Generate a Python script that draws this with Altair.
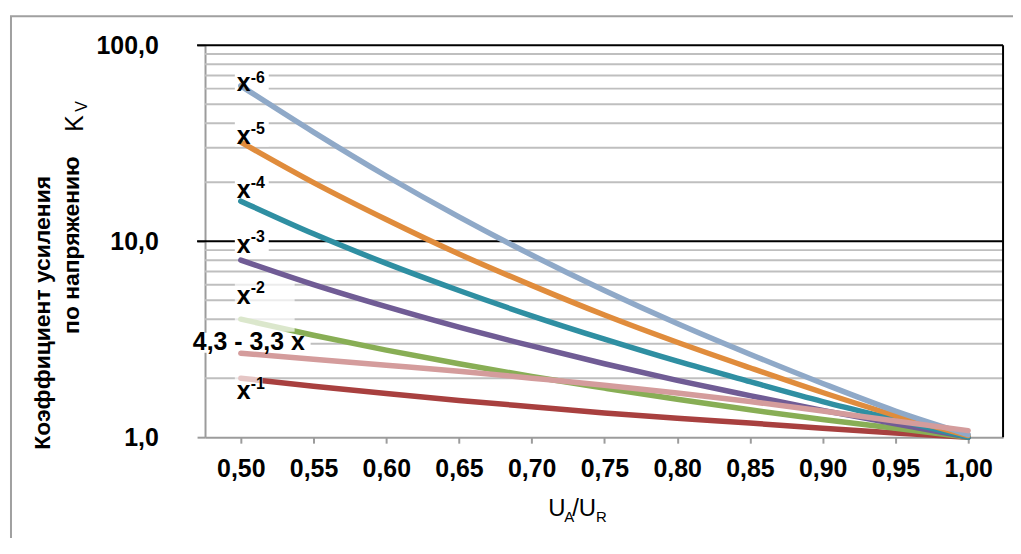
import altair as alt
import pandas as pd

# ---- data ----
x_vals = [0.50, 0.55, 0.60, 0.65, 0.70, 0.75, 0.80, 0.85, 0.90, 0.95, 1.00]

s_inv1 = [2.00, 1.82, 1.67, 1.54, 1.43, 1.33, 1.25, 1.18, 1.11, 1.05, 1.00]
s_inv2 = [4.00, 3.31, 2.78, 2.37, 2.04, 1.78, 1.56, 1.38, 1.23, 1.11, 1.00]
s_inv3 = [8.0, 6.0, 4.63, 3.64, 2.92, 2.37, 1.95, 1.63, 1.37, 1.17, 1.00]
s_inv4 = [16.0, 10.9, 7.7, 5.6, 4.16, 3.16, 2.44, 1.92, 1.52, 1.23, 1.00]
s_inv5 = [32.0, 19.9, 12.9, 8.6, 5.95, 4.2, 3.05, 2.26, 1.69, 1.29, 1.02]
s_inv6 = [62.0, 36.0, 21.5, 13.3, 8.5, 5.6, 3.8, 2.65, 1.88, 1.36, 1.03]
s_lin = [2.68, 2.50, 2.33, 2.17, 2.00, 1.84, 1.68, 1.52, 1.36, 1.21, 1.08]

x_ticks = [0.50, 0.55, 0.60, 0.65, 0.70, 0.75, 0.80, 0.85, 0.90, 0.95, 1.00]
y_ticks = [1, 10, 100]
minor_grid = [2, 3, 4, 5, 6, 7, 8, 9, 20, 30, 40, 50, 60, 70, 80, 90]
major_grid = [10, 100]

# series labels (exponent text, anchor y of "x", anchor y of exponent)
lab_sup = ["-6", "-5", "-4", "-3", "-2", "-1"]
lab_y = [64.1, 34.5, 18.2, 9.55, 5.26, 1.71]
lab_sup_y = [68.0, 37.5, 19.7, 10.5, 5.77, 1.86]
lin_label = "4,3 - 3,3 x"
lin_label_y = 3.07

FONT = "Liberation Sans"
W, H = 802, 394
GRID_GRAY = "#BFBFBF"
AXIS_GRAY = "#9C9C9C"

x_scale = alt.Scale(domain=[0.4754, 1.024], nice=False, zero=False)
y_scale = alt.Scale(type="log", domain=[1, 100], nice=False)

x_axis = alt.Axis(values=x_ticks, labelExpr="replace(format(datum.value, '.2f'), '.', ',')",
                  title=None, grid=False, tickSize=6, tickWidth=2, tickColor=AXIS_GRAY,
                  domainColor=AXIS_GRAY, domainWidth=2, labelFont=FONT, labelFontWeight="bold",
                  labelFontSize=25, labelColor="black", labelPadding=14, labelFlush=False,
                  labelOverlap=False)
y_axis = alt.Axis(values=y_ticks, labelExpr="replace(format(datum.value, '.1f'), '.', ',')",
                  title=None, grid=False, tickSize=8, tickWidth=2, tickColor=AXIS_GRAY,
                  domainColor=AXIS_GRAY, domainWidth=2, labelFont=FONT, labelFontWeight="bold",
                  labelFontSize=25, labelColor="black", labelPadding=39, labelOverlap=False)


def X(field):
    return alt.X(field, type="quantitative", scale=x_scale, axis=x_axis)


def Y(field):
    return alt.Y(field, type="quantitative", scale=y_scale, axis=y_axis)


layers = []

# minor gridlines
layers.append(alt.Chart(pd.DataFrame({"v": minor_grid})).mark_rule(
    color=GRID_GRAY, strokeWidth=2).encode(y=Y("v"), x=alt.value(0), x2=alt.value(W)))
# major gridlines (black)
layers.append(alt.Chart(pd.DataFrame({"v": major_grid})).mark_rule(
    color="black", strokeWidth=2).encode(y=Y("v"), x=alt.value(-8), x2=alt.value(W)))

# label boxes under lines (opaque)
under_boxes = pd.DataFrame({
    "x0": [0.4959, 0.4959, 0.4959, 0.4959, 0.463],
    "x1": [0.5192, 0.5192, 0.5192, 0.5192, 0.548],
    "y0": [55.7, 30.4, 16.1, 8.59, 2.70],
    "y1": [75.5, 40.7, 21.4, 11.2, 3.41],
})
layers.append(alt.Chart(under_boxes).mark_rect(color="white").encode(
    x=X("x0"), x2="x1", y=Y("y0"), y2="y1"))

# series lines
series = [
    (s_inv1, "#A8403F"),
    (s_inv2, "#88AE55"),
    (s_inv3, "#705C95"),
    (s_inv4, "#2F8FA2"),
    (s_inv5, "#E08C3C"),
    (s_inv6, "#8FA9C8"),
    (s_lin, "#D49C9C"),
]
for vals, col in series:
    df = pd.DataFrame({"x": x_vals, "y": vals})
    layers.append(alt.Chart(df).mark_line(color=col, strokeWidth=5.5, interpolate="monotone",
                                          strokeCap="round").encode(x=X("x"), y=Y("y")))

# label boxes over lines (semi transparent)
over_boxes = pd.DataFrame({
    "x0": [0.4959, 0.4959],
    "x1": [0.537, 0.515],
    "y0": [3.45, 1.49],
    "y1": [6.20, 2.11],
})
layers.append(alt.Chart(over_boxes).mark_rect(color="white", opacity=0.7).encode(
    x=X("x0"), x2="x1", y=Y("y0"), y2="y1"))

# right plot border
layers.append(alt.Chart(pd.DataFrame({"a": [0]})).mark_rule(color="black", strokeWidth=2).encode(
    x=alt.value(W), y=alt.value(0), y2=alt.value(H)))

# series labels
lab_df = pd.DataFrame({"sup": lab_sup, "y": lab_y, "ys": lab_sup_y,
                       "xb": [0.502] * len(lab_sup), "xs": [0.5068] * len(lab_sup),
                       "t": ["x"] * len(lab_sup)})
layers.append(alt.Chart(lab_df).mark_text(font=FONT, fontWeight="bold", fontSize=25,
                                          color="black", align="center", baseline="middle").encode(
    x=X("xb"), y=Y("y"), text="t:N"))
layers.append(alt.Chart(lab_df).mark_text(font=FONT, fontWeight="bold", fontSize=16,
                                          color="black", align="left", baseline="middle").encode(
    x=X("xs"), y=Y("ys"), text="sup:N"))
layers.append(alt.Chart(pd.DataFrame({"t": [lin_label], "x": [0.5055], "y": [lin_label_y]})).mark_text(
    font=FONT, fontWeight="bold", fontSize=25, color="black", align="center", baseline="middle").encode(
    x=X("x"), y=Y("y"), text="t:N"))

# axis titles (with subscripts) as text pieces
def ptext(t, px, py, size, weight="normal", angle=0, align="left", baseline="alphabetic"):
    kw = dict(font=FONT, fontSize=size, fontWeight=weight, color="black",
              align=align, baseline=baseline)
    if angle:
        kw["angle"] = angle
    return alt.Chart(pd.DataFrame({"t": [t]})).mark_text(**kw).encode(
        x=alt.value(px), y=alt.value(py), text="t:N")

layers += [
    ptext("U", 345, 473, 24),
    ptext("A", 361, 479, 15),
    ptext("/U", 369, 473, 24),
    ptext("R", 393, 479, 15),
    ptext("Коэффициент усиления", -156, 269, 23, "bold", 270, "center"),
    ptext("по напряжению", -127, 201, 23, "bold", 270, "center"),
    ptext("K", -123, 87, 25, "normal", 270),
    ptext("V", -119, 67, 16, "normal", 270),
]

# outer frame
layers.append(alt.Chart(pd.DataFrame({"a": [0]})).mark_rect(
    fill="white", fillOpacity=0, stroke="#A0A0A0", strokeWidth=2).encode(
    x=alt.value(-195), x2=alt.value(840), y=alt.value(-29), y2=alt.value(540)))

chart = alt.layer(*layers).properties(
    width=W, height=H,
    padding={"left": 198, "top": 36, "right": 10, "bottom": 100},
    autosize=alt.AutoSizeParams(type="none"),
    background="white",
).configure_view(strokeWidth=0)

chart.save("out.html", embed_options={"renderer": "svg", "actions": False})
